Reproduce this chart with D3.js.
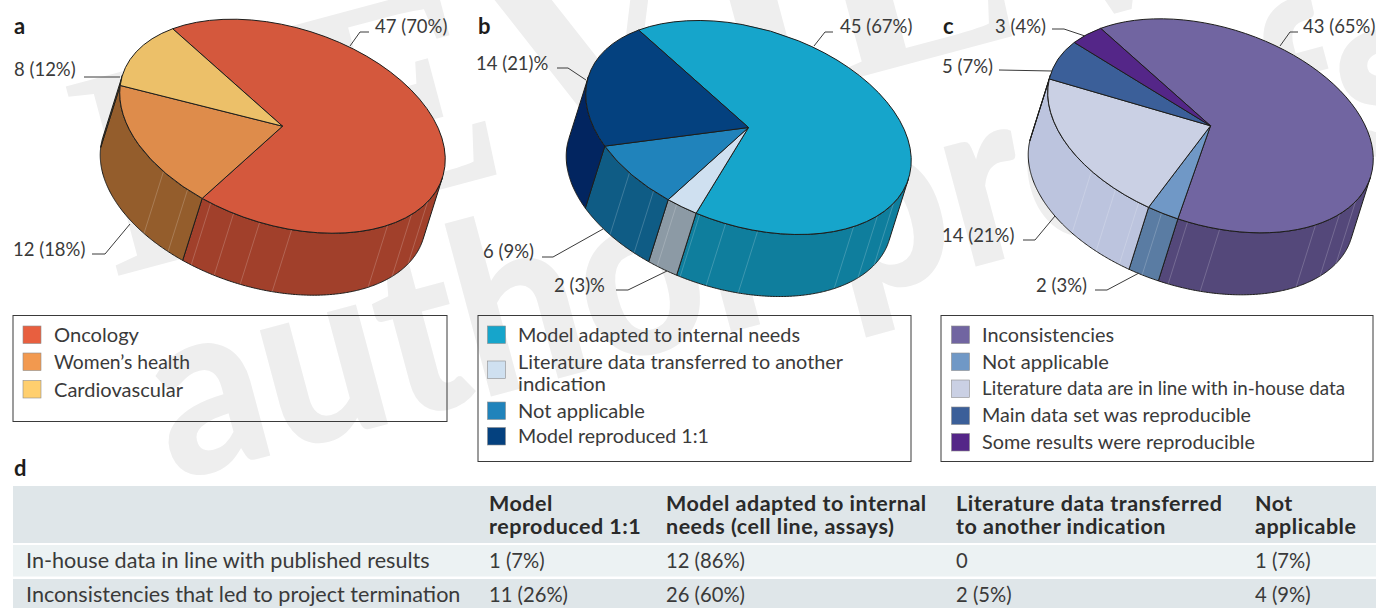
<!DOCTYPE html>
<html>
<head>
<meta charset="utf-8">
<script src="https://cdn.jsdelivr.net/npm/d3@7"></script>
<style>
  html, body { margin: 0; padding: 0; background: #fff; }
  svg { display: block; }
  text { font-family: Lato, "Open Sans", sans-serif; fill: #3a3a3a; }
</style>
</head>
<body>
<div id="wrapper"></div>
<script>
const categoriesA = ["Oncology", "Women\u2019s health", "Cardiovascular"];
const countsA = [47, 12, 8];
const sharesA = [70, 18, 12];
const labelsA = ["47 (70%)", "12 (18%)", "8 (12%)"];

const categoriesB = ["Model adapted to internal needs", "Literature data transferred to another indication", "Not applicable", "Model reproduced 1:1"];
const countsB = [45, 2, 6, 14];
const sharesB = [67, 3, 9, 21];
const labelsB = ["45 (67%)", "2 (3)%", "6 (9%)", "14 (21)%"];

const categoriesC = ["Inconsistencies", "Not applicable", "Literature data are in line with in-house data", "Main data set was reproducible", "Some results were reproducible"];
const countsC = [43, 2, 14, 5, 3];
const sharesC = [65, 3, 21, 7, 4];
const labelsC = ["43 (65%)", "2 (3%)", "14 (21%)", "5 (7%)", "3 (4%)"];

const tableColumns = [["Model", "reproduced 1:1"], ["Model adapted to internal", "needs (cell line, assays)"], ["Literature data transferred", "to another indication"], ["Not", "applicable"]];
const tableRows = ["In-house data in line with published results", "Inconsistencies that led to project termination"];
const tableCells = [["1 (7%)", "12 (86%)", "0", "1 (7%)"], ["11 (26%)", "26 (60%)", "2 (5%)", "4 (9%)"]];

const width = 1376, height = 608;
const svg = d3.select("#wrapper").append("svg").attr("width", width).attr("height", height);

// watermark sits behind everything
const mark = svg.append("g").attr("transform", "rotate(-15)");
mark.append("text").attr("x", 36).attr("y", 297).text("REVIEWS")
    .style("font-family", "Liberation Serif").style("font-weight", 700).style("font-size", "300px").style("fill", "#eeeeee");
mark.append("text").attr("x", 43).attr("y", 510).text("author proofs")
    .attr("textLength", 1320).attr("lengthAdjust", "spacingAndGlyphs")
    .style("font-family", "Lato").style("font-weight", 900).style("font-size", "240px").style("fill", "#eeeeee");

// the pies are circles squashed by one affine map, drawn at radius 100
const R = 100;
const tilt = 17.8 * Math.PI / 180;
const majorAxis = 168, minorAxis = 98.6;
const depth = [-19.5, 62];
const startDeg = 306.9;
const seamDeg = [216.3, 205, 195.5, 186.8, 177.4, 166.1, 129.1, 116.9, 106.3];

const m = [majorAxis * Math.cos(tilt) / R, majorAxis * Math.sin(tilt) / R, -minorAxis * Math.sin(tilt) / R, minorAxis * Math.cos(tilt) / R];
const det = m[0] * m[3] - m[1] * m[2];
const localDepth = [(m[3] * depth[0] - m[2] * depth[1]) / det, (-m[1] * depth[0] + m[0] * depth[1]) / det];
const depthAngle = Math.atan2(localDepth[0], -localDepth[1]);
const visLo = depthAngle - Math.PI / 2, visHi = depthAngle + Math.PI / 2;

const rim = a => [R * Math.sin(a), -R * Math.cos(a)];
const lineGen = d3.line();

function wallPath(lo, hi) {
    const n = Math.max(2, Math.ceil((hi - lo) / 0.01));
    const steps = d3.range(n + 1).map(i => lo + (hi - lo) * i / n);
    const front = steps.map(rim);
    const back = steps.slice().reverse().map(a => {
        const p = rim(a);
        return [p[0] + localDepth[0], p[1] + localDepth[1]];
    });
    return lineGen(front.concat(back)) + "Z";
}

function drawPie(cx, cy, values, tops, walls) {
    const g = svg.append("g").attr("transform", `matrix(${m[0]},${m[1]},${m[2]},${m[3]},${cx},${cy})`);
    const start = startDeg * Math.PI / 180;
    const pie = d3.pie().sort(null).startAngle(start).endAngle(start + 2 * Math.PI);
    const arcs = pie(values);
    const arc = d3.arc().innerRadius(0).outerRadius(R);

    arcs.forEach((d, i) => {
        [0, 1].forEach(k => {
            const lo = Math.max(d.startAngle, visLo + 2 * Math.PI * k);
            const hi = Math.min(d.endAngle, visHi + 2 * Math.PI * k);
            if (hi > lo) {
                g.append("path").attr("d", wallPath(lo, hi))
                    .attr("fill", walls[i]).attr("stroke", "#1d1d1b").attr("stroke-width", 1)
                    .attr("stroke-linejoin", "round").attr("vector-effect", "non-scaling-stroke");
            }
        });
    });

    seamDeg.forEach(s => {
        const p = rim(s * Math.PI / 180);
        g.append("line").attr("x1", p[0]).attr("y1", p[1])
            .attr("x2", p[0] + localDepth[0]).attr("y2", p[1] + localDepth[1])
            .attr("stroke", "#fff").attr("stroke-opacity", 0.28).attr("stroke-width", 0.7)
            .attr("vector-effect", "non-scaling-stroke");
    });

    g.selectAll("path.top").data(arcs).join("path").attr("class", "top")
        .attr("d", arc)
        .attr("fill", (d, i) => tops[i])
        .attr("stroke", "#1d1d1b").attr("stroke-width", 1)
        .attr("stroke-linejoin", "round").attr("vector-effect", "non-scaling-stroke");
}

function drawLabels(items) {
    items.forEach(d => {
        svg.append("path").attr("d", lineGen(d.line)).attr("fill", "none").attr("stroke", "#3a3a3a").attr("stroke-width", 1);
        svg.append("text").attr("x", d.x).attr("y", d.y).text(d.text).style("font-size", "18.5px");
    });
}

function drawLegend(box, rows) {
    svg.append("rect").attr("x", box[0]).attr("y", box[1]).attr("width", box[2]).attr("height", box[3])
        .attr("fill", "none").attr("stroke", "#3a3a3a").attr("stroke-width", 1);
    rows.forEach(r => {
        svg.append("rect").attr("x", r.sx).attr("y", r.sy).attr("width", 18).attr("height", 17.5)
            .attr("fill", r.color).attr("stroke", "#8c8c8c").attr("stroke-width", 0.6);
        r.lines.forEach((t, i) => {
            svg.append("text").attr("x", r.tx).attr("y", r.base + i * 22).text(t)
                .attr("textLength", r.lens[i]).attr("lengthAdjust", "spacingAndGlyphs")
                .style("font-size", "19.3px");
        });
    });
}

function panelLetter(t, x, y) {
    svg.append("text").attr("x", x).attr("y", y).text(t)
        .style("font-size", "22px").style("font-weight", 700).style("fill", "#1d1d1b");
}

const topsA = ["#d4583d", "#de8c4b", "#ecc069"];
const wallsA = ["#a1402b", "#945d2c", "#8a6636"];
const swatchA = ["#e85f3f", "#f2994f", "#ffcf6e"];
const topsB = ["#16a5cb", "#cfe0f0", "#2083bb", "#04417f"];
const wallsB = ["#0f7e9d", "#8c9aa5", "#0f5c85", "#022560"];
const topsC = ["#7165a1", "#7098c6", "#cad0e4", "#3b5f99", "#542688"];
const wallsC = ["#54487a", "#5a7ca3", "#bcc4de", "#2c4a7a", "#3f1d68"];

drawPie(282.5, 126.2, sharesA, topsA, wallsA);
drawPie(748.5, 127.5, sharesB, topsB, wallsB);
drawPie(1210.5, 125.8, sharesC, topsC, wallsC);

drawLabels([
    {text: labelsA[0], x: 375, y: 33, line: [[350, 46], [360, 32], [369, 32]]},
    {text: labelsA[2], x: 14, y: 76, line: [[84, 77], [120, 77]]},
    {text: labelsA[1], x: 13, y: 256, line: [[92, 254], [105, 254], [130, 224]]},
    {text: labelsB[0], x: 840, y: 33, line: [[814, 46], [825, 32], [833, 32]]},
    {text: labelsB[3], x: 476, y: 70, line: [[557, 68], [568, 68], [586, 80]]},
    {text: labelsB[2], x: 483, y: 258, line: [[542, 257], [553, 257], [603, 229]]},
    {text: labelsB[1], x: 554, y: 292, line: [[616, 290], [628, 290], [667, 271]]},
    {text: labelsC[0], x: 1303, y: 33, line: [[1280, 46], [1290, 32], [1298, 32]]},
    {text: labelsC[4], x: 995, y: 33, line: [[1052, 29], [1064, 29], [1085, 36]]},
    {text: labelsC[3], x: 942, y: 73, line: [[999, 70], [1052, 71]]},
    {text: labelsC[2], x: 942, y: 242, line: [[1023, 240], [1035, 240], [1055, 216]]},
    {text: labelsC[1], x: 1036, y: 292, line: [[1095, 290], [1107, 290], [1139, 273]]}
]);

panelLetter("a", 14, 34);
panelLetter("b", 478, 34);
panelLetter("c", 943, 34);
panelLetter("d", 14, 476);

drawLegend([13, 315.5, 434, 106], [
    {color: swatchA[0], sx: 23, sy: 326, tx: 54, base: 342, lines: [categoriesA[0]], lens: [85]},
    {color: swatchA[1], sx: 23, sy: 353, tx: 54, base: 369, lines: [categoriesA[1]], lens: [136]},
    {color: swatchA[2], sx: 23, sy: 380.5, tx: 54, base: 397, lines: [categoriesA[2]], lens: [129]}
]);
drawLegend([478, 315.5, 433, 146], [
    {color: topsB[0], sx: 487.5, sy: 326, tx: 518, base: 342, lines: [categoriesB[0]], lens: [282]},
    {color: topsB[1], sx: 487.5, sy: 361, tx: 518, base: 369, lines: ["Literature data transferred to another", "indication"], lens: [325, 88]},
    {color: topsB[2], sx: 487.5, sy: 402, tx: 518, base: 418, lines: [categoriesB[2]], lens: [127]},
    {color: topsB[3], sx: 487.5, sy: 427.5, tx: 518, base: 443, lines: [categoriesB[3]], lens: [191]}
]);
drawLegend([941, 315.5, 432, 146], [
    {color: topsC[0], sx: 951.5, sy: 326, tx: 982, base: 342, lines: [categoriesC[0]], lens: [132]},
    {color: topsC[1], sx: 951.5, sy: 353, tx: 982, base: 369, lines: [categoriesC[1]], lens: [127]},
    {color: topsC[2], sx: 951.5, sy: 380, tx: 982, base: 395, lines: [categoriesC[2]], lens: [363]},
    {color: topsC[3], sx: 951.5, sy: 407, tx: 982, base: 422, lines: [categoriesC[3]], lens: [269]},
    {color: topsC[4], sx: 951.5, sy: 433.5, tx: 982, base: 449, lines: [categoriesC[4]], lens: [273]}
]);

// table d
const colX = [489, 666, 956, 1255];
svg.append("rect").attr("x", 13).attr("y", 486).attr("width", width - 13).attr("height", 57).attr("fill", "#dfe6e9");
svg.append("rect").attr("x", 13).attr("y", 545).attr("width", width - 13).attr("height", 31.5).attr("fill", "#ecf2f3");
svg.append("rect").attr("x", 13).attr("y", 579).attr("width", width - 13).attr("height", 29).attr("fill", "#dfe6e9");
tableColumns.forEach((c, j) => {
    c.forEach((t, i) => {
        svg.append("text").attr("x", colX[j]).attr("y", 511 + i * 23).text(t)
            .style("font-size", "21.5px").style("font-weight", 700).style("letter-spacing", "0.5px").style("fill", "#2a2a2a");
    });
});
const rowY = [568, 602];
tableRows.forEach((t, i) => {
    svg.append("text").attr("x", 26).attr("y", rowY[i]).text(t).style("font-size", "21.6px");
    tableCells[i].forEach((c, j) => {
        svg.append("text").attr("x", colX[j]).attr("y", rowY[i]).text(c).style("font-size", "20.2px");
    });
});
</script>
</body>
</html>
